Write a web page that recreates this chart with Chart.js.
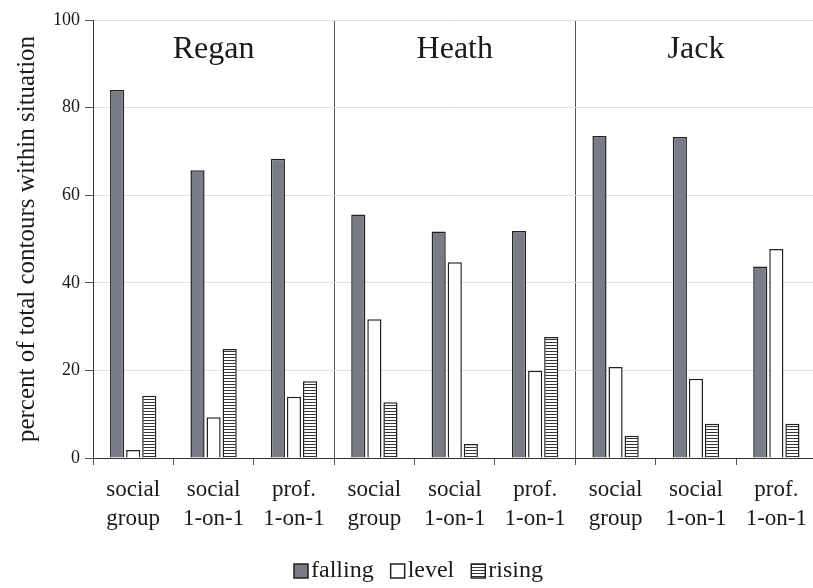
<!DOCTYPE html>
<html>
<head>
<meta charset="utf-8">
<script src="https://cdn.jsdelivr.net/npm/chart.js@4/dist/chart.umd.min.js"></script>
<style>
  html, body { margin: 0; padding: 0; background: #fff; overflow: hidden; }
  /* the original plot runs a few pixels past the right edge of the picture */
  #wrap { width: 817px; height: 588px; position: relative; }
</style>
</head>
<body>
<div id="wrap"><canvas id="chart"></canvas></div>
<script>
// chart data
const speakers = ['Regan', 'Heath', 'Jack'];
const situations = [
    ['social', 'group'], ['social', '1-on-1'], ['prof.', '1-on-1'],
    ['social', 'group'], ['social', '1-on-1'], ['prof.', '1-on-1'],
    ['social', 'group'], ['social', '1-on-1'], ['prof.', '1-on-1']
];
const falling = [84, 65.7, 68.3, 55.6, 51.7, 51.8, 73.5, 73.3, 43.7];
const level   = [1.8, 9.3, 14, 31.7, 44.7, 19.9, 20.8, 18.1, 47.7];
const rising  = [14.2, 24.9, 17.5, 12.7, 3.2, 27.6, 5.1, 7.8, 7.8];
const yTicks  = [0, 20, 40, 60, 80, 100];

const serif = '"Liberation Serif", "DejaVu Serif", serif';
const ink = '#1a1a1a';

// horizontal stripe fill for the "rising" bars
function stripePattern() {
    const c = document.createElement('canvas');
    c.width = 4;
    c.height = 3;
    const g = c.getContext('2d');
    g.fillStyle = '#fff';
    g.fillRect(0, 0, 4, 3);
    g.fillStyle = '#333';
    g.fillRect(0, 0, 4, 1);
    return g.createPattern(c, 'repeat');
}

// speaker names over each block of three situations
const speakerLabels = {
    id: 'speakerLabels',
    afterDraw(chart) {
        const x = chart.scales.x;
        const ctx = chart.ctx;
        ctx.save();
        ctx.font = '32px ' + serif;
        ctx.fillStyle = ink;
        ctx.textAlign = 'center';
        ctx.textBaseline = 'middle';
        speakers.forEach(function(name, i) {
            ctx.fillText(name, x.getPixelForValue(i * 3 + 1), 50);
        });
        ctx.restore();
    }
};

// compact legend: box right up against its label
const tightLegend = {
    id: 'tightLegend',
    afterDraw(chart) {
        const ctx = chart.ctx;
        const box = 14;
        ctx.save();
        ctx.font = '24px ' + serif;
        ctx.textBaseline = 'middle';
        let x = 294;
        const y = 571;
        chart.data.datasets.forEach(function(ds) {
            ctx.fillStyle = ds.backgroundColor;
            ctx.fillRect(x, y - box / 2, box, box);
            ctx.strokeStyle = ds.borderColor;
            ctx.lineWidth = 1.5;
            ctx.strokeRect(x, y - box / 2, box, box);
            ctx.fillStyle = ink;
            ctx.fillText(ds.label, x + box + 3, y);
            x += box + 3 + ctx.measureText(ds.label).width + 17;
        });
        ctx.restore();
    }
};

const ctx = document.getElementById('chart');
new Chart(ctx, {
    type: 'bar',
    data: {
        labels: situations,
        datasets: [
            {
                label: 'falling',
                data: falling,
                backgroundColor: '#797c86',
                borderColor: '#222',
                borderWidth: 1.5
            },
            {
                label: 'level',
                data: level,
                backgroundColor: '#ffffff',
                borderColor: '#222',
                borderWidth: 1.5
            },
            {
                label: 'rising',
                data: rising,
                backgroundColor: stripePattern(),
                borderColor: '#222',
                borderWidth: 1.5
            }
        ]
    },
    options: {
        responsive: true,
        maintainAspectRatio: false,
        animation: false,
        categoryPercentage: 0.6,
        barPercentage: 0.88,
        layout: {
            padding: { top: 20, right: 0, left: 0, bottom: 40 }
        },
        plugins: {
            tooltip: { enabled: false },
            legend: { display: false }
        },
        scales: {
            x: {
                offset: true,
                afterFit: function(scale) { scale.height = 90; },
                border: { display: true, color: '#333', width: 1 },
                grid: {
                    offset: true,
                    tickLength: 7,
                    tickColor: '#555',
                    color: function(c) {
                        return (c.index === 3 || c.index === 6) ? '#555' : 'rgba(0,0,0,0)';
                    }
                },
                ticks: {
                    font: { family: serif, size: 23, lineHeight: 1.26 },
                    color: ink,
                    padding: 10,
                    maxRotation: 0,
                    autoSkip: false
                }
            },
            y: {
                min: 0,
                max: 100,
                afterFit: function(scale) { scale.width = 93; },
                afterBuildTicks: function(scale) {
                    scale.ticks = yTicks.map(function(v) { return { value: v }; });
                },
                border: { display: true, color: '#333', width: 1 },
                grid: {
                    color: '#e0e0e0',
                    tickColor: '#555',
                    tickLength: 8
                },
                ticks: {
                    font: { family: serif, size: 18 },
                    color: ink,
                    padding: 5
                },
                title: {
                    display: true,
                    text: 'percent of total contours within situation',
                    font: { family: serif, size: 25, lineHeight: 1.2 },
                    color: ink,
                    padding: { top: 12, bottom: 0 }
                }
            }
        }
    },
    plugins: [speakerLabels, tightLegend]
});
</script>
</body>
</html>
